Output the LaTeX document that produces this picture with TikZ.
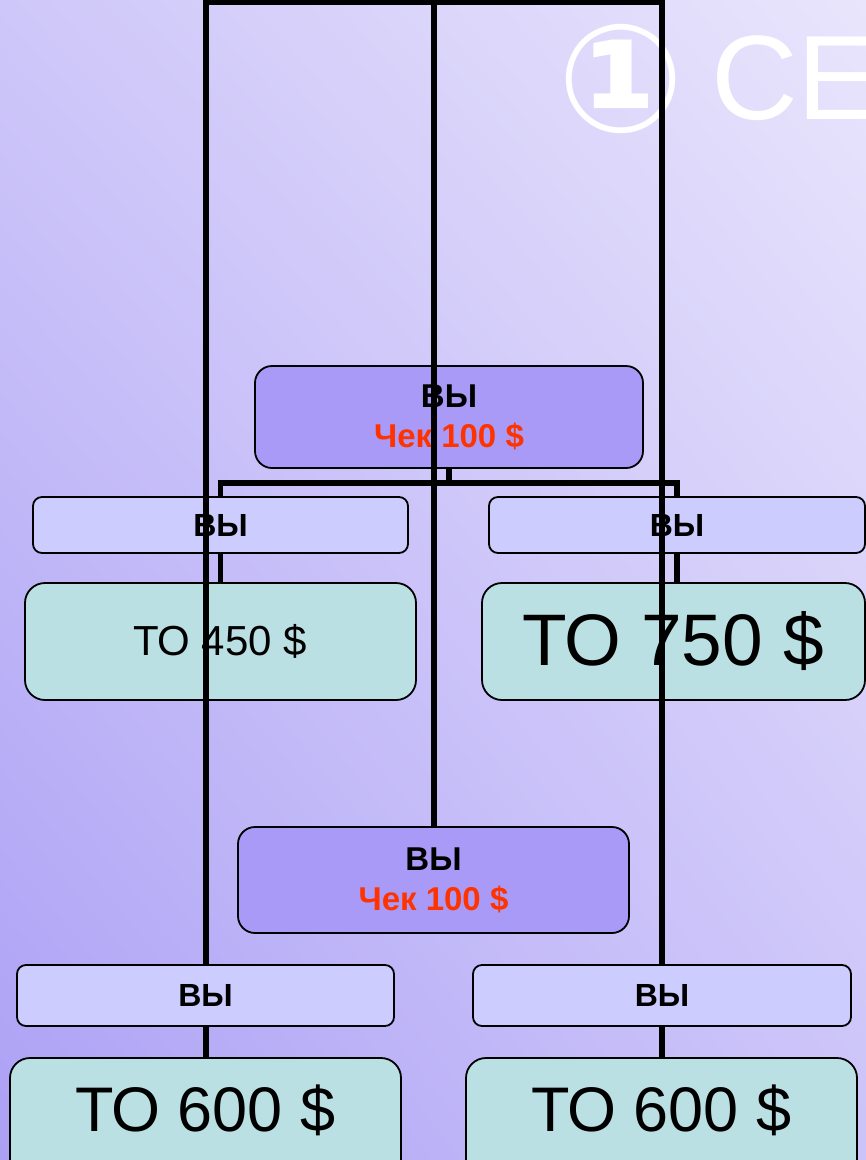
\documentclass[tikz,border=0pt]{standalone}
\usepackage{fontspec}
\usetikzlibrary{shadings}
\setmainfont{Liberation Sans}
\newfontfamily\dejavu{DejaVu Sans}
\definecolor{bgTL}{RGB}{206,199,249}
\definecolor{bgTR}{RGB}{233,229,252}
\definecolor{bgBL}{RGB}{172,160,245}
\definecolor{bgBR}{RGB}{203,195,249}
\definecolor{pfill}{RGB}{168,154,246}
\definecolor{lfill}{RGB}{204,204,255}
\definecolor{tfill}{RGB}{187,224,227}
\definecolor{chek}{RGB}{255,51,0}
\pgfdeclarelayer{back}
\pgfdeclarelayer{mid}
\pgfsetlayers{back,mid,main}
\begin{document}
\begin{tikzpicture}[x=1pt,y=-1pt,
  pbox/.style={draw=black, line width=1.8pt, fill=pfill, rounded corners=17pt, inner sep=0pt, align=center, font=\fontsize{33}{40}\selectfont\bfseries},
  lbox/.style={draw=black, line width=1.8pt, fill=lfill, rounded corners=9pt, inner sep=0pt, font=\fontsize{32}{38}\selectfont\bfseries},
  tbox/.style={draw=black, line width=1.8pt, fill=tfill, rounded corners=20pt, inner sep=0pt},
  conn/.style={line width=5.5pt, line join=miter},
  framel/.style={line width=6pt, line join=miter},
  title/.style={text=white, inner sep=0pt}]
\useasboundingbox (0,0) rectangle (866,1160);

% lower tree (front)
\node[pbox, minimum width=391pt, minimum height=106pt] (P2) at (433.5,880) {ВЫ\\{\color{chek}Чек 100 \$}};
\node[lbox, minimum width=377pt, minimum height=61pt] (L2) at (205.5,995.5) {ВЫ};
\node[lbox, minimum width=378pt, minimum height=61pt] (R2) at (662,995.5) {ВЫ};
\node[tbox, minimum width=391pt, minimum height=124pt, label={[font=\fontsize{63}{70}\selectfont, yshift=10pt]center:ТО 600 \$}] (TL2) at (205.5,1120) {};
\node[tbox, minimum width=391pt, minimum height=124pt, label={[font=\fontsize{63}{70}\selectfont, yshift=10pt]center:ТО 600 \$}] (TR2) at (661.5,1120) {};

\begin{pgfonlayer}{back}
\shade[upper left=bgTL, upper right=bgTR, lower left=bgBL, lower right=bgBR] (0,0) rectangle (866,1160);
\node[title, font=\dejavu\bfseries\fontsize{150}{160}\selectfont] (num) at (621,79) {①};
\node[title, anchor=west, font=\fontsize{120}{130}\selectfont] (ce) at (711,78) {СЕ};

\node[pbox, minimum width=388pt, minimum height=102pt] (P1) at (449,417) {ВЫ\\{\color{chek}Чек 100 \$}};
\node[lbox, minimum width=375pt, minimum height=56pt] (L1) at (220.5,525) {ВЫ};
\node[lbox, minimum width=376pt, minimum height=56pt] (R1) at (677,525) {ВЫ};
\node[tbox, minimum width=391pt, minimum height=117pt, font=\fontsize{42}{48}\selectfont] (TL1) at (220.5,641.5) {ТО 450 \$};
\node[tbox, minimum width=383pt, minimum height=117pt, font=\fontsize{73}{80}\selectfont] (TR1) at (673.5,641.5) {ТО 750 \$};

\coordinate (bar1) at (449,483);
\draw[conn] (P1.south) -- (bar1);
\draw[conn] (L1.north) |- (bar1) -| (R1.north);
\draw[conn] (L1.south) -- (L1.south |- TL1.north);
\draw[conn] (R1.south) -- (R1.south |- TR1.north);
\end{pgfonlayer}

\begin{pgfonlayer}{mid}
\coordinate (ftop) at (433.5,1.5);
\draw[framel] (P2.north) -- (P2.north |- ftop);
\draw[framel] (TL2.north) |- (ftop) -| (TR2.north);
\end{pgfonlayer}
\end{tikzpicture}
\end{document}
